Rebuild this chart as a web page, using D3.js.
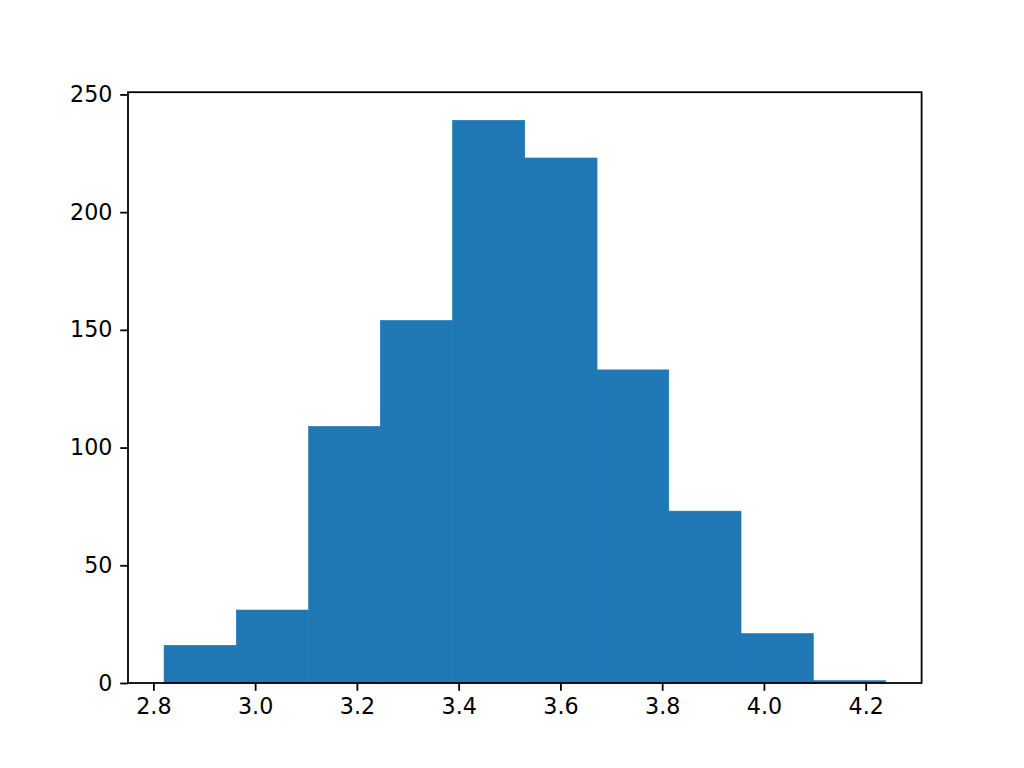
<!DOCTYPE html>
<html>
<head>
<meta charset="utf-8">
<script src="https://cdn.jsdelivr.net/npm/d3@7"></script>
<style>
  body { margin: 0; background: #fff; }
  text { font-family: "DejaVu Sans", sans-serif; }
</style>
</head>
<body>
<div id="chart"></div>
<script>
// histogram bins (edges) and counts
var binEdges = [2.821, 2.963, 3.105, 3.246, 3.388, 3.530, 3.672, 3.813, 3.955, 4.097, 4.239];
var counts = [16, 31, 109, 154, 239, 223, 133, 73, 21, 1];
var xTicks = [2.8, 3.0, 3.2, 3.4, 3.6, 3.8, 4.0, 4.2];
var yTicks = [0, 50, 100, 150, 200, 250];

var width = 1024, height = 768;
// plot area (note: "top" is taken by window.top, so use other names)
var plotLeft = 128, plotRight = 921.6, plotTop = 92.2, plotBottom = 683;
var lw = 1.78; // 0.8pt at 160 dpi

var svg = d3.select('#chart').append('svg')
  .attr('width', width).attr('height', height);

// matplotlib style 5% margins
var xMin = binEdges[0], xMax = binEdges[binEdges.length - 1];
var pad = (xMax - xMin) * 0.05;
var x = d3.scaleLinear().domain([xMin - pad, xMax + pad]).range([plotLeft, plotRight]);
var y = d3.scaleLinear().domain([0, d3.max(counts) * 1.05]).range([plotBottom, plotTop]);

var bins = counts.map(function(c, i) {
  return { x0: binEdges[i], x1: binEdges[i + 1], n: c };
});

svg.selectAll('rect.bar')
  .data(bins)
  .enter()
  .append('rect')
  .attr('class', 'bar')
  .attr('x', function(d) { return x(d.x0); })
  .attr('width', function(d) { return x(d.x1) - x(d.x0); })
  .attr('y', function(d) { return y(d.n); })
  .attr('height', function(d) { return y(0) - y(d.n); })
  .attr('fill', '#1f77b4')
  .attr('stroke', '#1f77b4')
  .attr('stroke-width', 0.6);

// axes
var xAxis = d3.axisBottom(x).tickValues(xTicks).tickFormat(d3.format('.1f'))
  .tickSize(7.8).tickPadding(7.8);
var yAxis = d3.axisLeft(y).tickValues(yTicks).tickFormat(d3.format('d'))
  .tickSize(7.8).tickPadding(7.8);

var gx = svg.append('g').attr('transform', 'translate(0,' + plotBottom + ')').call(xAxis);
var gy = svg.append('g').attr('transform', 'translate(' + plotLeft + ',0)').call(yAxis);

[gx, gy].forEach(function(g) {
  g.select('.domain').remove();
  g.selectAll('.tick line').attr('stroke', '#000').attr('stroke-width', lw);
  g.selectAll('.tick text').attr('fill', '#000').style('font-size', '22.2px');
});

// frame
svg.append('rect')
  .attr('x', plotLeft).attr('y', plotTop)
  .attr('width', plotRight - plotLeft).attr('height', plotBottom - plotTop)
  .attr('fill', 'none').attr('stroke', '#000').attr('stroke-width', lw);
</script>
</body>
</html>
